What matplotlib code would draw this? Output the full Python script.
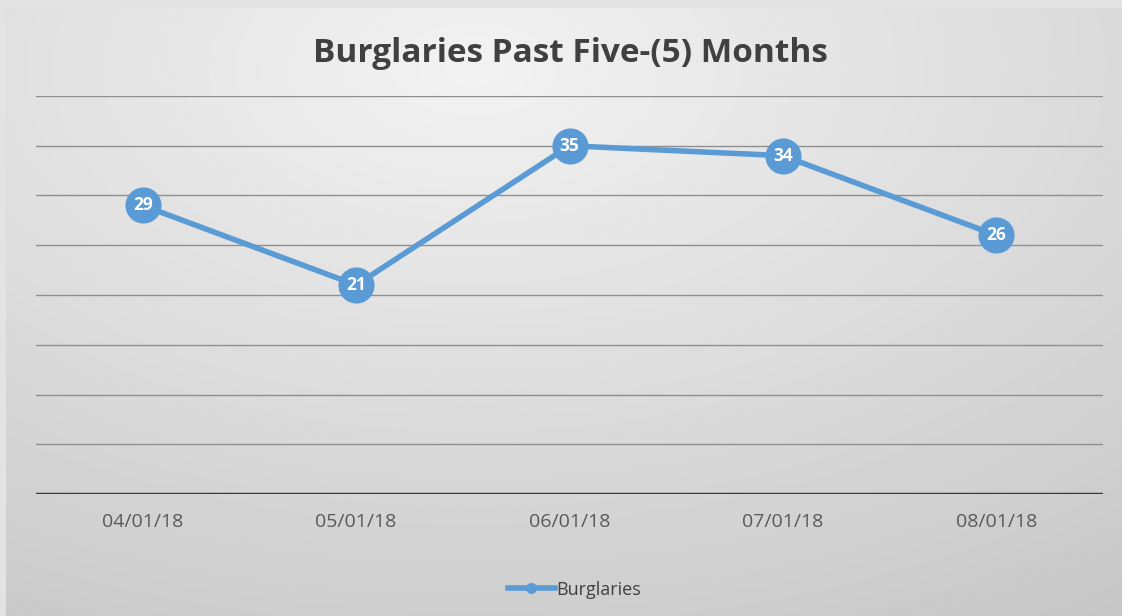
import numpy as np
import matplotlib
matplotlib.use("Agg")
from matplotlib import pyplot as plt

# data
months = ["04/01/18", "05/01/18", "06/01/18", "07/01/18", "08/01/18"]
burglaries = [29, 21, 35, 34, 26]
grid_levels = [5, 10, 15, 20, 25, 30, 35, 40]

plt.rcParams['font.family'] = ['Open Sans', 'DejaVu Sans']
blue = '#5b9bd5'

fig = plt.figure(figsize=(11.22, 6.16), dpi=100)
fig.patch.set_facecolor('#e3e3e3')

# gradient background of the chart panel
bg = fig.add_axes([6/1122, 0, 1 - 6/1122, 1 - 8/616])
yy, xx = np.mgrid[0:1:300j, 0:1:600j]
r = np.sqrt(((xx - 0.42) / 0.9) ** 2 + ((yy - 0.1) / 0.95) ** 2)
shade = 0.95 - 0.15 * np.clip(r, 0, 1.2)
bg.imshow(shade, cmap='gray', vmin=0, vmax=1, aspect='auto', extent=[0, 1, 0, 1], origin='upper')
bg.set_axis_off()

ax = fig.add_axes([36/1122, (616-494)/616, (1103-36)/1122, (494-96)/616])
ax.patch.set_alpha(0)
x = np.arange(len(months))
for g in grid_levels:
    ax.axhline(g, color='#8f8f8f', lw=1.0, zorder=1)
ax.axhline(0, color='#3a3a3a', lw=2.5, zorder=2)

ax.plot(x, burglaries, color=blue, lw=4, marker='o', markersize=26,
        markerfacecolor=blue, markeredgecolor=blue, markeredgewidth=0, zorder=3,
        solid_capstyle='round')
for xi, v in zip(x, burglaries):
    ax.text(xi, v, str(v), color='white', fontsize=12.5, fontweight='bold',
            ha='center', va='center', zorder=4)

ax.set_xlim(-0.5, len(months) - 0.5)
ax.set_ylim(0, 40)
ax.set_xticks(x)
ax.set_xticklabels(months, fontsize=14, color='#595959')
ax.tick_params(axis='x', length=0, pad=14)
ax.set_yticks([])
for s in ax.spines.values():
    s.set_visible(False)

fig.text(0.508, 0.913, "Burglaries Past Five-(5) Months", fontsize=24, fontweight='bold',
         color='#404040', ha='center', va='center')

ax.plot([], [], color=blue, lw=4, marker='o', markersize=7, label='Burglaries')
leg = fig.legend(loc='center', bbox_to_anchor=(0.512, 0.043), frameon=False, fontsize=13,
                 handlelength=2.6, handletextpad=0.1)
for t in leg.get_texts():
    t.set_color('#404040')

fig.savefig('out.png', dpi=100)
